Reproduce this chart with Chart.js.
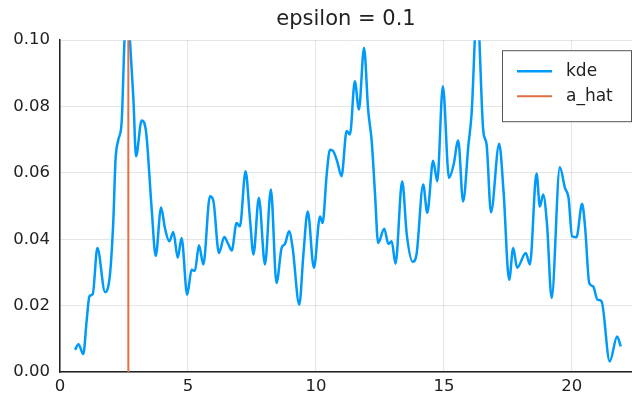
<!DOCTYPE html>
<html>
<head>
<meta charset="utf-8">
<script src="https://cdn.jsdelivr.net/npm/chart.js@4.4.1/dist/chart.umd.min.js"></script>
<style>
  html, body { margin: 0; padding: 0; background: #fff; }
  #wrap { width: 632px; height: 396px; }
</style>
</head>
<body>
<div id="wrap"><canvas id="kdeChart"></canvas></div>
<script>
// values
const kdeX = [0.59, 0.72, 0.91, 1.04, 1.15, 1.28, 1.46, 1.76, 1.95, 2.08, 2.17, 2.28, 2.41, 2.52, 2.63, 2.74, 2.87, 2.97,
  3.19, 3.36, 3.58, 3.74, 3.95, 4.10, 4.27, 4.43, 4.60, 4.75, 4.97, 5.14, 5.27, 5.43, 5.60, 5.86, 5.99,
  6.21, 6.42, 6.57, 6.71, 6.90, 7.03, 7.25, 7.43, 7.56, 7.77, 8.01, 8.24, 8.46, 8.66, 8.79, 8.95,
  9.09, 9.35, 9.51, 9.68, 9.92, 10.16, 10.26, 10.42, 10.55, 10.68, 10.83, 11.00, 11.20, 11.33, 11.52,
  11.68, 11.88, 12.04, 12.18, 12.31, 12.43, 12.67, 12.83, 12.96, 13.11, 13.37, 13.55, 13.78, 13.93,
  14.19, 14.35, 14.58, 14.74, 14.96, 15.20, 15.38, 15.56, 15.75, 15.96, 16.08, 16.30, 16.54, 16.67,
  16.84, 17.16, 17.33, 17.55, 17.71, 17.86, 18.20, 18.36, 18.62, 18.75, 18.88, 19.03, 19.21, 19.53,
  19.73, 19.87, 20.01, 20.18, 20.40, 20.52, 20.68, 20.83, 21.00, 21.16, 21.48, 21.77, 21.91];
const kdeY = [0.0067, 0.0084, 0.0054, 0.0153, 0.0228, 0.0235, 0.0374, 0.0241, 0.0293, 0.0450, 0.0640, 0.0700, 0.0755, 0.1000, 0.1130, 0.0990, 0.0820, 0.0650,
  0.0758, 0.0726, 0.0494, 0.0350, 0.0496, 0.0434, 0.0394, 0.0422, 0.0344, 0.0404, 0.0233, 0.0308, 0.0305, 0.0382, 0.0324, 0.0530, 0.0517,
  0.0359, 0.0407, 0.0386, 0.0366, 0.0449, 0.0439, 0.0605, 0.0454, 0.0354, 0.0525, 0.0324, 0.0550, 0.0268, 0.0374, 0.0386, 0.0424,
  0.0374, 0.0203, 0.0354, 0.0484, 0.0314, 0.0469, 0.0449, 0.0595, 0.0670, 0.0665, 0.0635, 0.0590, 0.0726, 0.0716, 0.0876,
  0.0791, 0.0977, 0.0791, 0.0695, 0.0535, 0.0389, 0.0432, 0.0386, 0.0394, 0.0326, 0.0575, 0.0414, 0.0332, 0.0354,
  0.0565, 0.0480, 0.0637, 0.0575, 0.0861, 0.0585, 0.0625, 0.0698, 0.0514, 0.0685, 0.0776, 0.1100, 0.0726, 0.0685,
  0.0481, 0.0688, 0.0545, 0.0278, 0.0374, 0.0314, 0.0359, 0.0324, 0.0598, 0.0499, 0.0535, 0.0444, 0.0223, 0.0617,
  0.0555, 0.0525, 0.0409, 0.0406, 0.0507, 0.0434, 0.0268, 0.0258, 0.0218, 0.0213, 0.0032, 0.0107, 0.0077];
const aHat = 2.67;

const xTicks = [0, 5, 10, 15, 20];
const xTickLabels = ['0', '5', '10', '15', '20'];
const yTicks = [0, 0.02, 0.04, 0.06, 0.08, 0.10];
const yTickLabels = ['0.00', '0.02', '0.04', '0.06', '0.08', '0.10'];
const seriesNames = ['kde', 'a_hat'];

const blue = '#009AFA';
const red = '#E26F46';
const fontFamily = '"DejaVu Sans", sans-serif';

// legend box drawn inside the plot, top right (GR style)
const insideLegend = {
  id: 'insideLegend',
  afterDraw(chart) {
    const ctx = chart.ctx;
    const a = chart.chartArea;
    const w = 129, h = 71;
    const x0 = a.right - w - 1, y0 = a.top + 10;
    ctx.save();
    ctx.fillStyle = '#fff';
    ctx.fillRect(x0, y0, w, h);
    ctx.strokeStyle = '#555';
    ctx.lineWidth = 1;
    ctx.strokeRect(x0 + 0.5, y0 + 0.5, w, h);
    chart.data.datasets.forEach((ds, i) => {
      const yy = y0 + 21 + i * 25;
      ctx.strokeStyle = ds.borderColor;
      ctx.lineWidth = ds.borderWidth;
      ctx.beginPath();
      ctx.moveTo(x0 + 15, yy);
      ctx.lineTo(x0 + 50, yy);
      ctx.stroke();
      ctx.fillStyle = '#222';
      ctx.font = '17px ' + fontFamily;
      ctx.textBaseline = 'middle';
      ctx.fillText(ds.label, x0 + 64, yy);
    });
    ctx.restore();
  }
};

const ctx = document.getElementById('kdeChart').getContext('2d');
const kdeChart = new Chart(ctx, {
  type: 'line',
  data: {
    datasets: [
      {
        label: seriesNames[0],
        data: kdeX.map((x, i) => ({ x: x, y: kdeY[i] })),
        borderColor: blue,
        borderWidth: 2.5,
        pointRadius: 0,
        order: 1,
        cubicInterpolationMode: 'monotone'
      },
      {
        label: seriesNames[1],
        data: [{ x: aHat, y: 0 }, { x: aHat, y: 0.2 }],
        borderColor: red,
        borderWidth: 2,
        pointRadius: 0,
        order: 0
      }
    ]
  },
  options: {
    responsive: true,
    maintainAspectRatio: false,
    animation: false,
    layout: { padding: 0 },
    plugins: {
      legend: { display: false },
      tooltip: { enabled: false },
      title: {
        display: true,
        text: 'epsilon = 0.1',
        fullSize: false,
        color: '#222',
        font: { family: fontFamily, size: 21, weight: 'normal' },
        padding: { top: 7, bottom: 8 }
      }
    },
    scales: {
      x: {
        type: 'linear',
        min: 0,
        max: 22.35,
        afterBuildTicks: (s) => { s.ticks = xTicks.map(v => ({ value: v })); },
        afterFit: (s) => { s.height = 24; },
        ticks: {
          padding: 5,
          color: '#222',
          maxRotation: 0,
          font: { family: fontFamily, size: 16.5 },
          callback: (v, i) => xTickLabels[i]
        },
        grid: { color: 'rgba(0,0,0,0.1)', drawTicks: false },
        border: { color: '#222', width: 1.5 }
      },
      y: {
        min: 0,
        max: 0.1,
        afterBuildTicks: (s) => { s.ticks = yTicks.map(v => ({ value: v })); },
        afterFit: (s) => { s.width = 60; },
        ticks: {
          padding: 10,
          color: '#222',
          font: { family: fontFamily, size: 16.5 },
          callback: (v, i) => yTickLabels[i]
        },
        grid: { color: 'rgba(0,0,0,0.1)', drawTicks: false },
        border: { color: '#222', width: 1.5 }
      }
    }
  },
  plugins: [insideLegend]
});
</script>
</body>
</html>
